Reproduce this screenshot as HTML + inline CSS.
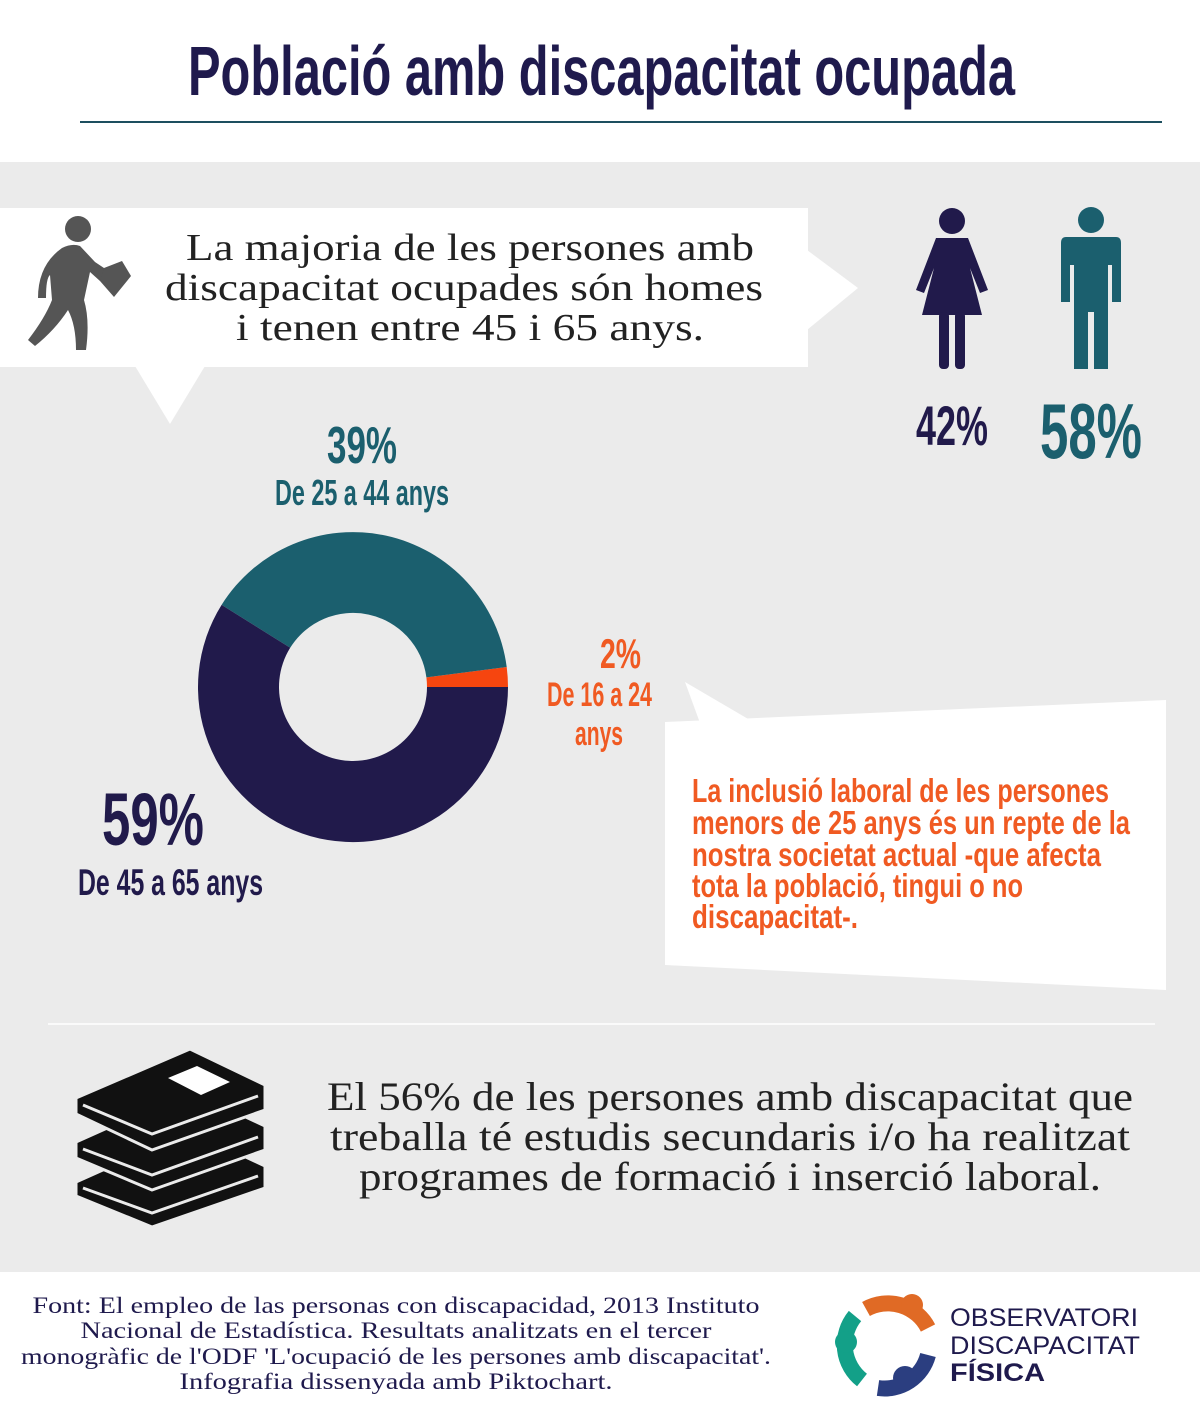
<!DOCTYPE html>
<html><head><meta charset="utf-8"><style>html,body{margin:0;padding:0;background:#fff}svg{display:block}</style></head>
<body>
<svg width="1200" height="1420" viewBox="0 0 1200 1420" xmlns="http://www.w3.org/2000/svg">
<rect width="1200" height="1420" fill="#fff"/>
<text x="188" y="95" font-family="Liberation Sans Narrow, Liberation Sans, sans-serif" font-weight="bold" font-size="70" fill="#1f1a4d" textLength="827" lengthAdjust="spacingAndGlyphs">Població amb discapacitat ocupada</text>
<rect x="80" y="121" width="1082" height="2" fill="#1d4f5f"/>
<rect x="0" y="162" width="1200" height="1110" fill="#ebebeb"/>
<rect x="0" y="208" width="808" height="159" fill="#fff"/>
<polygon points="135,366 205,366 170,424" fill="#fff"/>
<polygon points="807,250 807,330 858,288" fill="#fff"/>
<g fill="#555">
<circle cx="78" cy="229" r="13"/>
<path d="M62,248 Q72,243 80,246 L95,262 L104,268 L108,275 L100,281 L90,272 L84,300 Q90,320 86,350 L76,350 Q76,325 68,310 Q55,330 35,346 L28,340 Q45,318 52,300 L50,275 Q46,278 46,298 L38,298 Q38,265 62,248Z"/>
<path d="M104,268 L122,261 L131,276 L114,297 L100,281Z" />
</g>
<g font-family="Liberation Serif, serif" font-size="38" fill="#222" text-anchor="middle">
<text x="470" y="260" textLength="568" lengthAdjust="spacingAndGlyphs">La majoria de les persones amb</text>
<text x="464" y="300" textLength="598" lengthAdjust="spacingAndGlyphs">discapacitat ocupades són homes</text>
<text x="470" y="340" textLength="468" lengthAdjust="spacingAndGlyphs">i tenen entre 45 i 65 anys.</text>
</g>
<g fill="#211a4b">
<circle cx="952" cy="221" r="13"/>
<path d="M936,238 L968,238 L988,290 L980,293 L970,268 L982,315 L922,315 L934,268 L924,293 L916,290Z"/>
<rect x="939" y="312" width="10" height="57" rx="4"/>
<rect x="955" y="312" width="10" height="57" rx="4"/>
</g>
<g fill="#1b5f6e">
<circle cx="1091" cy="220" r="13"/>
<path d="M1066,237 L1116,237 Q1121,237 1121,243 L1121,302 L1112,302 L1112,265 L1108,265 L1108,369 L1094,369 L1094,312 L1088,312 L1088,369 L1074,369 L1074,265 L1070,265 L1070,302 L1061,302 L1061,243 Q1061,237 1066,237Z"/>
</g>
<g font-family="Liberation Sans Narrow, Liberation Sans, sans-serif" font-weight="bold">
<text x="916" y="445" font-size="56" fill="#211a4b" textLength="72" lengthAdjust="spacingAndGlyphs">42%</text>
<text x="1040" y="458" font-size="78" fill="#1b5f6e" textLength="102" lengthAdjust="spacingAndGlyphs">58%</text>
<text x="327" y="463" font-size="52" fill="#1b5f6e" textLength="70" lengthAdjust="spacingAndGlyphs">39%</text>
<text x="275" y="505" font-size="36" fill="#1b5f6e" textLength="174" lengthAdjust="spacingAndGlyphs">De 25 a 44 anys</text>
<text x="600" y="668" font-size="42" fill="#f05a22" textLength="41" lengthAdjust="spacingAndGlyphs">2%</text>
<text x="547" y="706" font-size="34" fill="#f05a22" textLength="105" lengthAdjust="spacingAndGlyphs">De 16 a 24</text>
<text x="575" y="745" font-size="34" fill="#f05a22" textLength="48" lengthAdjust="spacingAndGlyphs">anys</text>
<text x="102" y="845" font-size="74" fill="#211a4b" textLength="102" lengthAdjust="spacingAndGlyphs">59%</text>
<text x="78" y="895" font-size="37" fill="#211a4b" textLength="185" lengthAdjust="spacingAndGlyphs">De 45 a 65 anys</text>
</g>
<g transform="translate(353,687)">
<path d="M155,0 A155,155 0 0 0 153.7,-20 L73.4,-9.6 A74,74 0 0 1 74,0Z" fill="#f6450f"/>
<path d="M153.7,-20 A155,155 0 0 0 -131.4,-82.1 L-62.8,-39.2 A74,74 0 0 1 73.4,-9.6Z" fill="#1b5f6e"/>
<path d="M-131.4,-82.1 A155,155 0 1 0 155,0 L74,0 A74,74 0 1 1 -62.8,-39.2Z" fill="#211a4b"/>
</g>
<polygon points="665,722 1166,700 1166,990 665,965" fill="#fff"/>
<polygon points="700,723 755,723 685,682" fill="#fff"/>
<g font-family="Liberation Sans Narrow, Liberation Sans, sans-serif" font-weight="bold" font-size="33" fill="#f05a22">
<text x="692" y="802" textLength="417" lengthAdjust="spacingAndGlyphs">La inclusió laboral de les persones</text>
<text x="692" y="834" textLength="438" lengthAdjust="spacingAndGlyphs">menors de 25 anys és un repte de la</text>
<text x="692" y="866" textLength="409" lengthAdjust="spacingAndGlyphs">nostra societat actual -que afecta</text>
<text x="692" y="897" textLength="331" lengthAdjust="spacingAndGlyphs">tota la població, tingui o no</text>
<text x="692" y="928" textLength="166" lengthAdjust="spacingAndGlyphs">discapacitat-.</text>
</g>
<rect x="48" y="1023" width="1107" height="2" fill="#fafafa"/>
<g fill="#111" stroke="#ebebeb" stroke-width="3" stroke-linejoin="round">
<path d="M76,1182 L190,1131 L265,1166 L265,1188 L152,1227 L76,1196Z"/>
<path d="M76,1142 L190,1091 L265,1126 L265,1150 L152,1190 L76,1158Z"/>
<path d="M76,1098 L190,1049 L265,1085 L265,1110 L152,1150 L76,1114Z"/>
</g>
<g fill="none" stroke="#ebebeb" stroke-width="3">
<path d="M83,1105 L152,1134 L258,1096"/>
<path d="M83,1149 L152,1175 L258,1137"/>
<path d="M83,1188 L152,1213 L258,1176"/>
</g>
<polygon points="168,1078 197,1066 230,1082 201,1095" fill="#fff"/>
<g font-family="Liberation Serif, serif" font-size="40" fill="#222" text-anchor="middle">
<text x="730" y="1110" textLength="806" lengthAdjust="spacingAndGlyphs">El 56% de les persones amb discapacitat que</text>
<text x="730" y="1150" textLength="800" lengthAdjust="spacingAndGlyphs">treballa té estudis secundaris i/o ha realitzat</text>
<text x="730" y="1190" textLength="742" lengthAdjust="spacingAndGlyphs">programes de formació i inserció laboral.</text>
</g>
<g font-family="Liberation Serif, serif" font-size="23" fill="#1f1a4d" text-anchor="middle">
<text x="396" y="1313" textLength="727" lengthAdjust="spacingAndGlyphs">Font: El empleo de las personas con discapacidad, 2013 Instituto</text>
<text x="396" y="1338" textLength="631" lengthAdjust="spacingAndGlyphs">Nacional de Estadística. Resultats analitzats en el tercer</text>
<text x="396" y="1364" textLength="750" lengthAdjust="spacingAndGlyphs">monogràfic de l'ODF 'L'ocupació de les persones amb discapacitat'.</text>
<text x="396" y="1389" textLength="433" lengthAdjust="spacingAndGlyphs">Infografia dissenyada amb Piktochart.</text>
</g>
<g fill="none" stroke-width="16">
<path d="M866,1309 A45,45 0 0 1 928,1328" stroke="#e06a25"/>
<path d="M928,1355 A45,45 0 0 1 878,1388" stroke="#2b3e80"/>
<path d="M862,1380 A45,45 0 0 1 855,1316" stroke="#13a088"/>
</g>
<circle cx="912" cy="1305" r="11" fill="#e06a25"/>
<circle cx="905" cy="1378" r="12" fill="#2b3e80"/>
<circle cx="846" cy="1342" r="11" fill="#13a088"/>
<g font-family="Liberation Sans, sans-serif" fill="#1f1a4d">
<text x="950" y="1326" font-size="25" textLength="188" lengthAdjust="spacingAndGlyphs">OBSERVATORI</text>
<text x="950" y="1354" font-size="25" textLength="190" lengthAdjust="spacingAndGlyphs">DISCAPACITAT</text>
<text x="950" y="1381" font-size="25" font-weight="bold" textLength="95" lengthAdjust="spacingAndGlyphs">FÍSICA</text>
</g>
</svg>
</body></html>
